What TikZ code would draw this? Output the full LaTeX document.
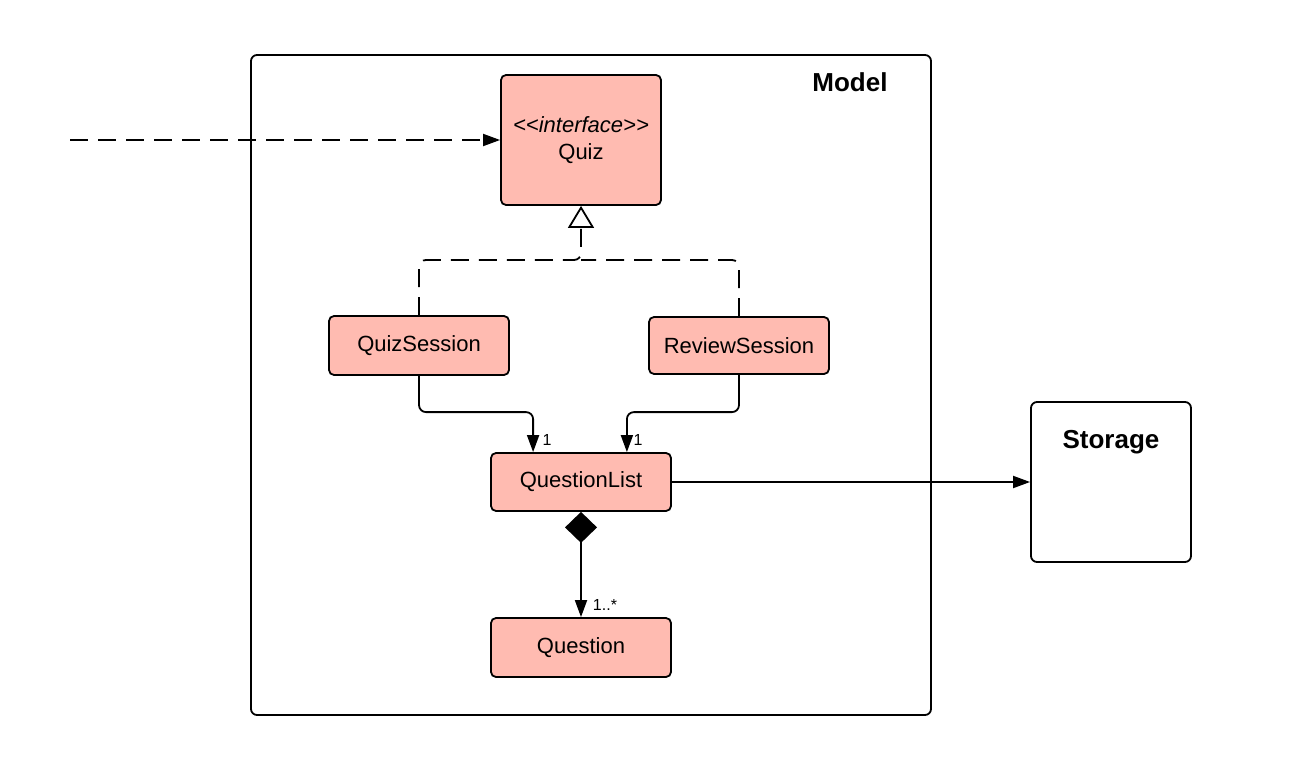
\documentclass[tikz,border=0pt]{standalone}
\usepackage{fontspec}
\newfontfamily\umlfont{Liberation Sans}
\usetikzlibrary{arrows.meta}
\definecolor{boxfill}{RGB}{255,187,177}
\tikzset{
  cls/.style={draw=black, line width=1.8pt, fill=boxfill, rounded corners=5pt,
    minimum width=180pt, inner sep=0pt, font=\umlfont\fontsize{22}{26}\selectfont, align=center},
  frame/.style={draw=black, line width=1.8pt, rounded corners=6pt},
  title/.style={font=\umlfont\bfseries\fontsize{26}{30}\selectfont, inner sep=0pt},
  mult/.style={font=\umlfont\fontsize{16}{18}\selectfont, inner sep=0pt},
  conn/.style={draw=black, line width=1.8pt, line join=round},
  dashline/.style={conn, dash pattern=on 18pt off 10pt},
  tip/.style={-{Triangle[length=17pt,width=12pt]}},
}
\begin{document}
\begin{tikzpicture}[x=1pt,y=-1pt]
\useasboundingbox (0,0) rectangle (1310,770);
% model frame
\node[frame, minimum width=680pt, minimum height=660pt, inner sep=0pt] (model) at (591,385) {};
\node[title] (modeltitle) at (850,82) {Model};
% storage
\node[frame, minimum width=160pt, minimum height=160pt, inner sep=0pt] (storage) at (1111,482) {};
\node[title] (storagetitle) at (1111,442) {Storage};
% classes
\node[cls, minimum width=160pt, minimum height=130pt] (quiz) at (581,140) {\itshape <<interface>>\\[1pt]Quiz};
\node[cls, minimum height=59pt] (qs) at (419,345.5) {QuizSession};
\node[cls, minimum height=57pt] (rs) at (739,345.5) {ReviewSession};
\node[cls, minimum height=58pt] (ql) at (581,482) {QuestionList};
\node[cls, minimum height=59pt] (q) at (581,647.5) {Question};
% incoming dependency
\coordinate (src) at (70,140);
\draw[dashline, tip] (src) -- (quiz.west);
% realization
\coordinate (j) at (581,260);
\draw[dashline, rounded corners=7pt, -{Triangle[open, length=22pt, width=26pt]}] (qs.north) |- (j) -- (quiz.south);
\draw[dashline, rounded corners=7pt] (rs.north) |- (j);
% associations to QuestionList
\draw[conn, rounded corners=7pt, tip] (qs.south) |- ([xshift=43pt,yshift=40pt]ql.north west) -- ([xshift=43pt]ql.north west);
\draw[conn, rounded corners=7pt, tip] (rs.south) |- ([xshift=-45pt,yshift=40pt]ql.north east) -- ([xshift=-45pt]ql.north east);
\node[mult] (m1) at (547,440) {1};
\node[mult] (m2) at (638,440) {1};
% to storage
\draw[conn, tip] (ql.east) -- (storage.west);
% composition
\draw[conn, {Diamond[length=31pt,width=32pt]}-{Triangle[length=17pt,width=12pt]}] (ql.south) -- (q.north);
\node[mult] (m3) at (605,605) {1..*};
\end{tikzpicture}
\end{document}
